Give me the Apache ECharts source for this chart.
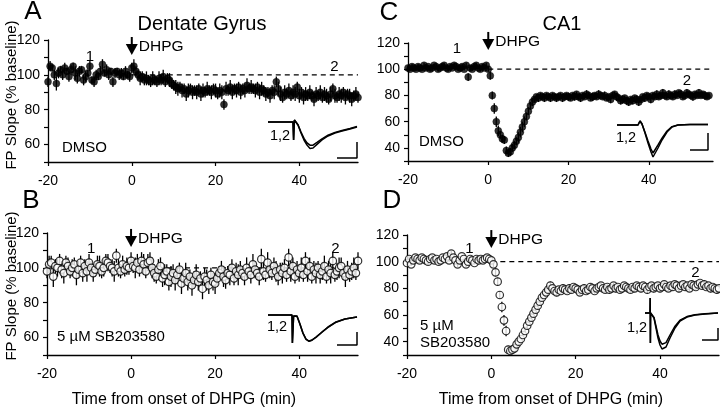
<!DOCTYPE html>
<html><head><meta charset="utf-8">
<script src="https://cdn.jsdelivr.net/npm/echarts@6/dist/echarts.min.js"></script>
<style>html,body{margin:0;padding:0;background:#fff}#c{width:720px;height:410px}</style>
</head><body><div id="c"></div>
<script>
// sampling grid (min)
const tStart = -20, tStep = 0.5;

// Panel A: Dentate Gyrus, DMSO (% baseline)
const valsA = [
 96,105,104,100,95,101,103,100,104,102, 99,103,105,101,98,102,103,97,99,101,
 105,97,96,100,99,102,106,101,103,100, 102,96,101,102,100,101,99,102,100,99,
 104,105,102,100,98,99,97,98,97,96, 98,97,96,98,97,99,96,98,97,95,
 94,93,92,93,91,92,89,91,92,90, 91,90,92,89,91,90,92,91,90,92,
 91,89,91,90,83,92,91,93,90,92, 91,93,90,92,91,94,92,93,92,91,
 93,90,92,91,89,90,88,91,90,96, 92,89,87,90,89,91,88,90,89,93,
 88,90,87,89,88,90,88,86,89,88, 90,87,89,88,86,89,92,88,87,89,
 88,90,87,89,88,86,88,89,87];
const errA = [
 3,3,2,3,4,3,2,3,3,2, 3,3,2,4,3,3,2,3,3,2,
 3,2,3,3,2,3,3,2,3,3, 2,3,3,2,3,3,2,3,2,3,
 3,4,3,3,4,3,3,4,3,3, 4,3,3,4,3,4,3,3,4,3,
 3,4,4,3,4,3,4,4,3,4, 3,4,3,4,4,3,4,3,4,3,
 4,3,4,4,3,4,3,4,4,3, 4,3,4,3,4,4,3,4,3,4,
 3,4,4,3,4,3,4,3,4,3, 4,4,3,4,3,4,3,4,4,3,
 4,3,4,4,3,4,3,4,4,3, 4,3,4,4,3,4,3,4,3,4,
 4,3,4,3,4,4,3,4,3];

// Panel B: Dentate Gyrus, 5 µM SB203580
const valsB = [
 98,102,103,95,101,100,104,99,97,103, 101,98,100,102,96,99,103,97,101,98,
 103,100,97,99,102,101,98,100,104,103, 101,100,98,107,100,98,102,99,101,100,
 104,101,100,103,99,104,102,98,103,104, 100,97,95,99,101,94,96,98,92,95,
 97,93,96,99,91,94,97,92,95,90, 93,96,92,94,88,95,93,90,96,92,
 91,94,97,99,95,93,97,96,100,94, 98,96,99,97,95,100,98,96,102,99,
 97,95,105,98,96,103,99,97,101,98, 95,99,97,100,96,106,98,101,95,99,
 97,100,96,104,98,101,95,99,97,100, 96,98,101,95,99,97,104,96,98,100,
 101,97,95,99,96,98,100,97,104];
const errB = [
 4,5,4,6,4,5,4,5,6,4, 5,4,5,4,6,5,4,5,4,6,
 5,4,5,4,5,6,4,5,4,5, 4,5,6,4,5,4,5,4,5,4,
 5,4,6,5,4,5,6,4,5,5, 6,5,4,6,5,5,6,4,5,6,
 5,6,5,4,6,5,6,5,4,6, 5,6,5,4,6,5,6,5,4,5,
 6,5,4,5,6,5,4,6,5,4, 5,6,5,4,5,6,4,5,6,5,
 4,5,6,5,4,6,5,4,5,6, 5,4,6,5,4,5,6,5,4,5,
 5,6,4,5,6,5,4,5,6,4, 5,5,6,4,5,6,5,4,5,6,
 5,4,6,5,4,5,6,4,5];

// Panel C: CA1, DMSO
const valsC = [
 101,100,102,101,100,102,101,100,103,101, 102,100,101,103,102,100,101,102,103,101,
 100,102,101,103,102,100,101,102,100,103, 94,101,100,102,103,101,100,102,101,103,
 100,95,80,70,60,53,50,47,46,38, 36,37,40,42,45,48,52,56,60,64,
 68,72,75,77,79,78,80,79,78,80, 79,78,80,79,78,79,80,78,79,80,
 79,78,80,79,81,79,78,80,79,81, 80,78,79,80,79,81,80,79,80,78,
 79,77,80,81,79,78,76,77,78,76, 75,77,76,78,77,75,77,79,78,80,
 79,77,80,79,81,79,80,82,80,79, 81,80,79,81,80,82,81,79,80,82,
 81,80,79,81,80,82,80,81,80,79,80];
const errC = [
 2,1,2,2,1,2,2,1,2,2, 1,2,2,1,2,2,1,2,2,1,
 2,2,1,2,2,1,2,2,1,2, 3,2,1,2,2,1,2,2,1,2,
 2,3,3,4,4,4,3,3,3,3, 3,3,3,3,3,4,4,4,4,3,
 3,3,3,2,2,3,2,2,3,2, 2,3,2,2,3,2,2,3,2,2,
 3,2,2,3,2,2,3,2,2,3, 2,2,3,2,2,3,2,2,3,2,
 2,3,2,2,3,2,3,3,2,3, 3,2,3,2,3,3,2,2,3,2,
 2,3,2,2,3,2,2,3,2,2, 3,2,2,3,2,2,3,2,2,3,
 2,2,3,2,2,3,2,2,3,2,2];

// Panel D: CA1, 5 µM SB203580
const valsD = [
 99,102,98,101,103,102,101,103,102,101, 100,102,103,101,102,100,101,103,102,104,
 101,106,103,101,98,101,104,102,98,100, 102,101,99,102,101,102,101,102,103,102,
 101,98,92,85,75,66,56,48,34,33, 34,35,38,40,42,45,48,52,55,58,
 61,64,67,70,73,75,77,79,82,80, 78,77,79,78,80,79,78,80,79,81,
 80,79,77,79,80,78,79,81,80,78, 80,81,82,80,79,81,79,80,82,80,
 81,79,80,82,81,80,79,81,80,82, 81,80,82,81,79,81,82,80,81,82,
 80,81,83,81,80,82,81,83,82,80, 82,83,81,82,80,83,82,81,83,84,
 82,83,81,82,80,81,80,79,80];
const errD = [
 2,2,1,2,2,1,2,2,1,2, 2,1,2,2,1,2,2,1,2,2,
 1,2,2,1,2,2,1,2,2,1, 2,2,1,2,2,1,2,2,1,2,
 2,2,3,3,3,4,4,4,3,3, 3,3,3,3,3,3,3,3,3,3,
 3,3,3,3,2,3,2,2,3,2, 2,3,2,2,3,2,2,3,2,2,
 2,3,2,2,3,2,2,3,2,2, 3,2,2,3,2,2,3,2,2,3,
 2,2,3,2,2,3,2,2,3,2, 2,3,2,2,3,2,2,3,2,2,
 3,2,2,3,2,2,3,2,2,3, 2,2,3,2,2,3,2,2,3,2,
 2,3,2,2,3,2,2,3,2];

const baselineLevel = 100;
const xTickValues = [-20, 0, 20, 40];

// Inset field-potential traces [ms, mV]; trace 1 (baseline) and trace 2 (late)
const traceA1 = [[0,0],[6.25,0],[6.4,-0.45],[6.6,0.05],[7,0.025],[7.5,-0.075],[8.25,-0.275],[9,-0.45],[9.75,-0.575],[10.5,-0.66],[11.25,-0.65],[12.25,-0.56],[13.5,-0.45],[15,-0.35],[16.75,-0.275],[18.5,-0.225],[20.5,-0.175],[22.25,-0.125]];
const traceA2 = [[0,0],[6.25,0],[6.4,-0.45],[6.6,0.05],[7,0.025],[7.5,-0.07],[8.25,-0.25],[9,-0.41],[9.75,-0.52],[10.5,-0.58],[11.25,-0.58],[12.25,-0.51],[13.5,-0.42],[15,-0.33],[16.75,-0.26],[18.5,-0.21],[20.5,-0.16],[22.25,-0.11]];
const scaleA = [[17.25,-0.9],[22.25,-0.9],[22.25,-0.5]];

const traceB1 = [[0,0],[6,0],[6.1,-0.7],[6.4,-0.025],[6.75,0.025],[7.25,-0.025],[8,-0.225],[8.75,-0.45],[9.5,-0.6],[10.25,-0.65],[11,-0.625],[12,-0.55],[13.5,-0.425],[15,-0.3],[17,-0.175],[19.25,-0.1],[22.25,-0.05]];
const traceB2 = [[0,0],[6,0],[6.1,-0.7],[6.4,-0.025],[6.75,0.025],[7.25,-0.03],[8,-0.235],[8.75,-0.46],[9.5,-0.61],[10.25,-0.66],[11,-0.63],[12,-0.56],[13.5,-0.43],[15,-0.31],[17,-0.18],[19.25,-0.1],[22.25,-0.05]];
const scaleB = [[17.25,-0.75],[22.25,-0.75],[22.25,-0.425]];

const traceC1 = [[0.5,0],[5.75,0],[6.25,0.1],[6.5,0.125],[6.75,0.025],[7.5,-0.2],[8.25,-0.45],[9,-0.675],[9.5,-0.8],[10,-0.75],[10.75,-0.575],[11.75,-0.375],[13,-0.175],[14.25,-0.05],[15.75,0],[18.75,0.0125],[23.25,0.0125]];
const traceC2 = [[0.5,0],[5.75,0],[6.25,0.1],[6.5,0.125],[6.75,0.025],[7.5,-0.18],[8.25,-0.4],[9,-0.6],[9.5,-0.7],[10,-0.65],[10.75,-0.5],[11.75,-0.33],[13,-0.15],[14.25,-0.04],[15.75,0],[18.75,0.0125],[23.25,0.0125]];
const scaleC = [[18.75,-0.625],[23.25,-0.625],[23.25,-0.2]];

const traceD1 = [[1.25,0],[2.5,0],[2.55,0.375],[2.6,-0.75],[2.65,0],[3,0.025],[3.5,-0.125],[4,-0.375],[4.5,-0.625],[5,-0.8],[5.5,-0.9],[6,-0.925],[6.5,-0.85],[7.5,-0.625],[8.75,-0.375],[10,-0.2],[11.75,-0.1],[13.75,-0.05],[16.25,-0.025],[19.5,0]];
const traceD2 = [[1.25,0],[2.5,0],[2.55,0.375],[2.6,-0.75],[2.65,0],[3,0.025],[3.5,-0.11],[4,-0.33],[4.5,-0.55],[5,-0.7],[5.5,-0.78],[6,-0.8],[6.5,-0.74],[7.5,-0.55],[8.75,-0.33],[10,-0.18],[11.75,-0.09],[13.75,-0.045],[16.25,-0.02],[19.5,0]];
const scaleD = [[15.5,-0.675],[19.5,-0.675],[19.5,-0.375]];

const FONT = 'Liberation Sans, Arial, Helvetica, sans-serif';
const chart = echarts.init(document.getElementById('c'), null, {renderer: 'canvas'});

const panels = [
  {vals: valsA, err: errA, open: false, grid: {left: 48, top: 40, width: 310, height: 122}, xMax: 54, yMin: 50, dashEnd: 54},
  {vals: valsB, err: errB, open: true,  grid: {left: 47, top: 233, width: 311, height: 122}, xMax: 54, yMin: 50, dashEnd: 54},
  {vals: valsC, err: errC, open: false, grid: {left: 408, top: 43, width: 305, height: 118}, xMax: 56, yMin: 30, dashEnd: 56},
  {vals: valsD, err: errD, open: true,  grid: {left: 407, top: 235, width: 312, height: 120}, xMax: 54, yMin: 30, dashEnd: 54}
];
const insets = [
  {grid: {left: 268, top: 115, width: 92, height: 45}, x: [0, 23], y: [-0.95, 0.175], t1: traceA1, t2: traceA2, bar: scaleA},
  {grid: {left: 268, top: 305, width: 92, height: 45}, x: [0, 23], y: [-0.875, 0.25], t1: traceB1, t2: traceB2, bar: scaleB},
  {grid: {left: 615, top: 115, width: 100, height: 45}, x: [0, 25], y: [-0.875, 0.25], t1: traceC1, t2: traceC2, bar: scaleC},
  {grid: {left: 640, top: 295, width: 80, height: 60}, x: [0, 20], y: [-1.05, 0.45], t1: traceD1, t2: traceD2, bar: scaleD}
];

const grids = [], xAxes = [], yAxes = [], series = [];
const axisLineStyle = {color: '#000', width: 1.3};
panels.forEach((p, gi) => {
  grids.push(Object.assign({containLabel: false}, p.grid));
  xAxes.push({
    gridIndex: gi, type: 'value', min: -20, max: p.xMax, interval: 20,
    axisLine: {show: true, onZero: false, lineStyle: axisLineStyle},
    axisTick: {show: true, length: 4, lineStyle: {color: '#000', width: 1.2}, customValues: xTickValues},
    axisLabel: {color: '#000', fontSize: 14, fontFamily: FONT, margin: 12, customValues: xTickValues,
      formatter: v => (v % 20 === 0 ? String(v) : '')},
    splitLine: {show: false}
  });
  yAxes.push({
    gridIndex: gi, type: 'value', min: p.yMin, max: 120, interval: 10,
    axisLine: {show: true, onZero: false, lineStyle: axisLineStyle},
    axisTick: {show: true, length: 4, lineStyle: {color: '#000', width: 1.2}},
    axisLabel: {color: '#000', fontSize: 14, fontFamily: FONT, margin: 8,
      formatter: v => (v % 20 === 0 ? String(v) : '')},
    splitLine: {show: false}
  });
  const times = p.vals.map((_, i) => tStart + i * tStep);
  series.push({
    type: 'line', xAxisIndex: gi, yAxisIndex: gi, z: 1, silent: true, showSymbol: false,
    data: [[0, baselineLevel], [p.dashEnd, baselineLevel]],
    lineStyle: {color: '#000', width: 1.3, type: [5, 4]}
  });
  series.push({
    type: 'custom', xAxisIndex: gi, yAxisIndex: gi, z: 2, silent: true,
    data: times.map((t, i) => [t, p.vals[i] - p.err[i], p.vals[i] + p.err[i]]),
    encode: {x: 0, y: [1, 2]},
    renderItem: (params, api) => {
      const a = api.coord([api.value(0), api.value(1)]);
      const b = api.coord([api.value(0), api.value(2)]);
      return {type: 'line', shape: {x1: a[0], y1: a[1], x2: b[0], y2: b[1]},
        style: {stroke: '#000', lineWidth: 1.3}};
    }
  });
  series.push({
    type: 'scatter', xAxisIndex: gi, yAxisIndex: gi, z: 3, silent: true,
    data: times.map((t, i) => [t, p.vals[i]]),
    symbol: 'circle', symbolSize: p.open ? 7.5 : 7,
    itemStyle: p.open ? {color: '#fff', borderColor: '#000', borderWidth: 1.2}
                      : {color: '#000', borderColor: '#000', borderWidth: 0.5}
  });
});
insets.forEach((ins, k) => {
  const gi = 4 + k;
  grids.push(Object.assign({containLabel: false}, ins.grid));
  xAxes.push({gridIndex: gi, type: 'value', min: ins.x[0], max: ins.x[1], show: false});
  yAxes.push({gridIndex: gi, type: 'value', min: ins.y[0], max: ins.y[1], show: false});
  [ins.t1, ins.t2, ins.bar].forEach(d => series.push({
    type: 'line', xAxisIndex: gi, yAxisIndex: gi, data: d, showSymbol: false, silent: true,
    lineStyle: {color: '#000', width: 1.5}, clip: false
  }));
});

chart.setOption({animation: false, backgroundColor: '#fff', grid: grids, xAxis: xAxes, yAxis: yAxes, series: series});

// annotations
const txt = (x, y, text, size, extra) => Object.assign({
  type: 'text', x, y, silent: true,
  style: {text, fill: '#000', font: size + 'px ' + FONT, align: 'left', verticalAlign: 'middle'}
}, extra || {});
const ctext = (x, y, text, size) => txt(x, y, text, size, {style: {text, fill: '#000', font: size + 'px ' + FONT, align: 'center', verticalAlign: 'middle'}});

const arrowTips = [111.4, 112, 114.7, 110.2];
const labels12 = [
  [[-10, 110.2], [48.4, 104.5]],
  [[-9.5, 110.8], [48.6, 110.8]],
  [[-7.8, 115.2], [49.5, 91]],
  [[-5.2, 109.3], [48.4, 91.7]]
];
const g = [];
panels.forEach((p, gi) => {
  const tip = chart.convertToPixel({gridIndex: gi}, [0, arrowTips[gi]]);
  g.push({type: 'group', x: tip[0], y: tip[1], silent: true, children: [
    {type: 'line', shape: {x1: 0, y1: -18, x2: 0, y2: -8}, style: {stroke: '#000', lineWidth: 2}},
    {type: 'polygon', shape: {points: [[-6, -11], [6, -11], [0, 0]]}, style: {fill: '#000'}}
  ]});
  g.push(txt(tip[0] + 7, tip[1] - 8, 'DHPG', 15.5));
  labels12[gi].forEach((pos, j) => {
    const q = chart.convertToPixel({gridIndex: gi}, pos);
    g.push(ctext(q[0], q[1], j === 0 ? '1' : '2', 15));
  });
});
// panel letters and titles
g.push(ctext(33, 12, 'A', 26), ctext(31, 201, 'B', 26), ctext(389, 13, 'C', 26), ctext(392, 201, 'D', 26));
g.push(ctext(202, 24, 'Dentate Gyrus', 20), ctext(562, 24, 'CA1', 20));
// condition labels
g.push(txt(62, 148, 'DMSO', 15), txt(419, 142, 'DMSO', 15));
g.push(txt(57, 337, '5 µM SB203580', 15), txt(420, 326, '5 µM', 15), txt(420, 343, 'SB203580', 15));
// inset labels
g.push(ctext(280, 136, '1,2', 14.5), ctext(626, 138, '1,2', 14.5), ctext(277, 327, '1,2', 14.5), ctext(637, 328, '1,2', 14.5));
// axis titles
g.push(txt(12, 95, 'FP Slope (% baseline)', 15, {rotation: Math.PI / 2,
  style: {text: 'FP Slope (% baseline)', fill: '#000', font: '15px ' + FONT, align: 'center', verticalAlign: 'middle'}}));
g.push(txt(12, 286, 'FP Slope (% baseline)', 15, {rotation: Math.PI / 2,
  style: {text: 'FP Slope (% baseline)', fill: '#000', font: '15px ' + FONT, align: 'center', verticalAlign: 'middle'}}));
g.push(ctext(184, 400, 'Time from onset of DHPG (min)', 16), ctext(551, 400, 'Time from onset of DHPG (min)', 16));

chart.setOption({graphic: g});
</script>
</body></html>
